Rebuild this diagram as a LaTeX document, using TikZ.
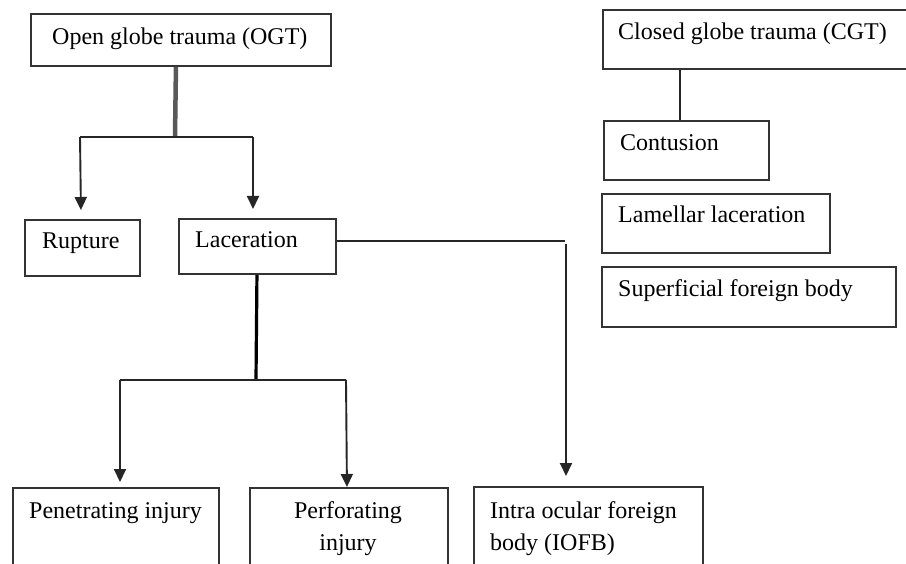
\documentclass[tikz,border=0pt]{standalone}
\usepackage{fontspec}
\setmainfont{Liberation Serif}
\usetikzlibrary{arrows.meta,calc}
\begin{document}
\begin{tikzpicture}[x=1pt,y=-1pt,
  box/.style={draw=black!80, line width=1.9pt, anchor=north west, inner sep=0pt},
  txt/.style={font=\fontsize{24}{32}\selectfont, inner sep=0pt, anchor=base west, text=black},
  conn/.style={line width=1.9pt, draw=black!85},
  arr/.style={conn, -{Triangle[length=13pt,width=12pt]}},
]
\useasboundingbox[fill=white] (0,0) rectangle (906,564);

% ---------- boxes ----------
\node[box, minimum width=300pt, minimum height=52pt] (ogt) at (30,13) {};
\node[box, minimum width=304pt, minimum height=59pt] (cgt) at (602,9) {};
\node[box, minimum width=165pt, minimum height=59pt] (con) at (603,120) {};
\node[box, minimum width=228pt, minimum height=59pt] (lam) at (601,193) {};
\node[box, minimum width=294pt, minimum height=60pt] (sup) at (601,266) {};
\node[box, minimum width=115pt, minimum height=56pt] (rup) at (24,219) {};
\node[box, minimum width=157pt, minimum height=55pt] (lac) at (178,218) {};
\node[box, minimum width=206pt, minimum height=95pt] (pen) at (12,487) {};
\node[box, minimum width=198pt, minimum height=95pt] (per) at (249,487) {};
\node[box, minimum width=229pt, minimum height=95pt] (iofb) at (473,486) {};

% ---------- texts ----------
\node[txt] (ogt-t) at (52,45) {Open globe trauma (OGT)};
\node[txt] (cgt-t) at (618,40) {Closed globe trauma (CGT)};
\node[txt] (con-t) at (620,151) {Contusion};
\node[txt] (lam-t) at (618,223) {Lamellar laceration};
\node[txt] (sup-t) at (618,297) {Superficial foreign body};
\node[txt] (rup-t) at (42,249) {Rupture};
\node[txt] (lac-t) at (195,248) {Laceration};
\node[txt] (pen-t) at (29,518) {Penetrating injury};
\node[txt, anchor=base] (per-t1) at (348,518) {Perforating};
\node[txt, anchor=base] (per-t2) at (348,550) {injury};
\node[txt] (iofb-t1) at (490,518) {Intra ocular foreign};
\node[txt] (iofb-t2) at (490,550) {body (IOFB)};

% ---------- connectors ----------
\coordinate (j1) at (175,137);
\draw[line width=4.5pt, draw=black!65] ($(ogt.south)+(-5,0)$) -- (j1);
\draw[conn] (80,137) -- (253,137);
\draw[arr] (80,137) -- ($(rup.north)+(-1.5,-9)$);
\draw[arr] (253,137) -- (253,209);

\coordinate (j2) at (256,380);
\draw[line width=3.2pt, draw=black] ($(lac.south)+(-0.5,0)$) -- (j2);
\draw[conn] (120,380) -- (346,380);
\draw[arr] (120,380) -- (120,482);
\draw[arr] (346,380) -- ($(per.north)+(-2,0)$);

\draw[conn] (lac.east |- 0,241) -- (565,241);
\draw[arr] (566,244) -- (566,476);

\draw[conn] (680,0 |- cgt.south) -- (680,0 |- con.north);
\end{tikzpicture}
\end{document}
